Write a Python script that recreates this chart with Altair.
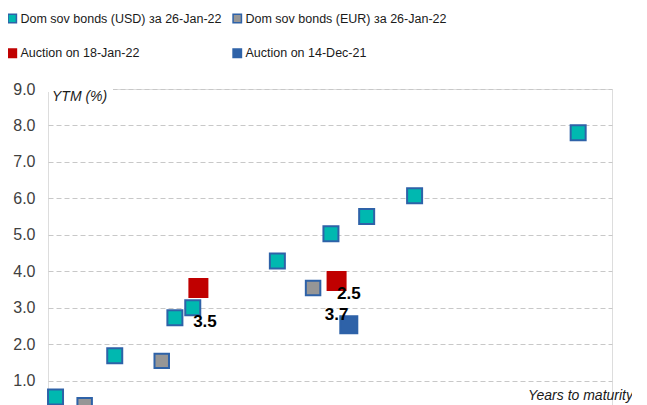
import altair as alt
import pandas as pd

# ---- data ----
series_names = [
    "Dom sov bonds (USD) за 26-Jan-22",
    "Dom sov bonds (EUR) за 26-Jan-22",
    "Auction on 18-Jan-22",
    "Auction on 14-Dec-21",
]
usd_years = [0.4, 3.55, 6.75, 7.7, 12.2, 15.05, 16.95, 19.5, 28.2]
usd_ytm = [0.55, 1.68, 2.72, 3.0, 4.28, 5.03, 5.5, 6.07, 7.8]
eur_years = [1.95, 6.05, 14.1]
eur_ytm = [0.32, 1.54, 3.54]
auc_jan_years = [8.0, 15.35]
auc_jan_ytm = [3.54, 3.73]
auc_dec_years = [16.0]
auc_dec_ytm = [2.53]

label_text = ["3.5", "2.5", "3.7"]
label_years = [8.35, 16.0, 15.35]
label_ytm = [2.61, 3.38, 2.8]

y_ticks = [1, 2, 3, 4, 5, 6, 7, 8, 9]

fills = ["#00B8B0", "#969696", "#C00000", "#2E62A8"]
strokes = ["#2E62A8", "#2E62A8", "#C00000", "#2E62A8"]
sizes = [225, 210, 324, 289]

rows = []
for name, xs, ys in [
    (series_names[0], usd_years, usd_ytm),
    (series_names[1], eur_years, eur_ytm),
    (series_names[2], auc_jan_years, auc_jan_ytm),
    (series_names[3], auc_dec_years, auc_dec_ytm),
]:
    for x, y in zip(xs, ys):
        rows.append({"series": name, "years": x, "ytm": y})
df = pd.DataFrame(rows)
labels = pd.DataFrame({"years": label_years, "ytm": label_ytm, "text": label_text})

FONT = "Liberation Sans"

xscale = alt.Scale(domain=[0, 30], nice=False, zero=False)
yscale = alt.Scale(domain=[0, 9], nice=False)

y_axis = alt.Axis(
    values=y_ticks,
    format=".1f",
    title=None,
    domain=False,
    ticks=False,
    labelOverlap=False,
    labelPadding=13,
    labelFont=FONT,
    labelFontSize=16,
    labelColor="#404040",
    grid=True,
    gridColor="#C8C8C8",
    gridDash=[5, 3],
    gridWidth=1,
)

legend = alt.Legend(
    title=None,
    orient="none",
    direction="horizontal",
    legendX=-42,
    legendY=-77,
    columns=2,
    columnPadding=8,
    rowPadding=20,
    symbolType="square",
    symbolSize=70,
    symbolStrokeWidth=1.5,
    symbolOpacity=1,
    labelFont=FONT,
    labelFontSize=12.5,
    labelColor="#1a1a1a",
    labelLimit=400,
    labelOffset=2,
    padding=0,
)

base = alt.Chart(df)
point_layers = []
for name, size in zip(series_names, sizes):
    point_layers.append(
        base.transform_filter(alt.datum.series == name)
        .mark_point(shape="square", filled=True, opacity=1, strokeWidth=2, size=size)
        .encode(
            x=alt.X("years:Q", scale=xscale, axis=None),
            y=alt.Y("ytm:Q", scale=yscale, axis=y_axis),
            color=alt.Color("series:N", scale=alt.Scale(domain=series_names, range=fills), legend=legend),
            stroke=alt.Stroke("series:N", scale=alt.Scale(domain=series_names, range=strokes), legend=legend),
        )
    )

data_labels = alt.Chart(labels).mark_text(
    font=FONT, fontSize=17, fontWeight="bold", color="#000000"
).encode(
    x=alt.X("years:Q", scale=xscale),
    y=alt.Y("ytm:Q", scale=yscale),
    text="text:N",
)

ytm_box = alt.Chart(pd.DataFrame({"a": [0]})).mark_rect(color="white").encode(
    x=alt.value(0), x2=alt.value(65), y=alt.value(-3), y2=alt.value(3)
)
ytm_title = alt.Chart(pd.DataFrame({"t": ["YTM (%)"]})).mark_text(
    font=FONT, fontSize=14, fontStyle="italic", align="left",
    baseline="middle", color="#1a1a1a"
).encode(x=alt.value(4), y=alt.value(8), text="t:N")

x_title = alt.Chart(pd.DataFrame({"t": ["Years to maturity"]})).mark_text(
    font=FONT, fontSize=14, fontStyle="italic", align="right",
    baseline="middle", color="#1a1a1a"
).encode(x=alt.value(585), y=alt.value(307), text="t:N")

chart = alt.layer(*point_layers, data_labels, ytm_box, ytm_title, x_title).properties(
    width=564,
    height=328,
    autosize=alt.AutoSizeParams(type="none"),
    padding={"left": 40, "top": 81, "right": 20, "bottom": 10},
).configure_view(stroke=None).configure(background="white")

chart.save("out.html", embed_options={"renderer": "svg", "actions": False})
